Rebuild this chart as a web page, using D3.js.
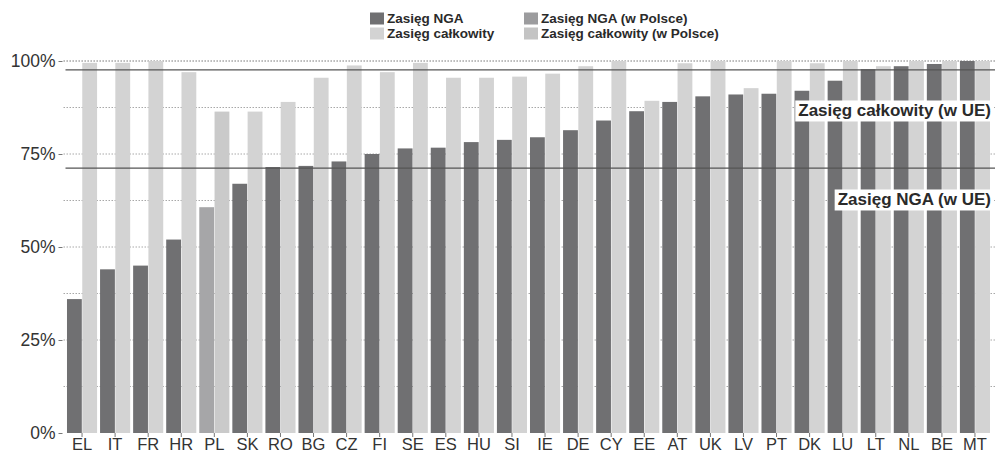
<!DOCTYPE html>
<html>
<head>
<meta charset="utf-8">
<script src="https://cdn.jsdelivr.net/npm/d3@7/dist/d3.min.js"></script>
<style>
  body { margin: 0; background: #fff; }
  svg { font-family: "Liberation Sans", Arial, sans-serif; }
</style>
</head>
<body>
<div id="chart"></div>
<script>
var countries = ["EL","IT","FR","HR","PL","SK","RO","BG","CZ","FI","SE","ES","HU","SI","IE","DE","CY","EE","AT","UK","LV","PT","DK","LU","LT","NL","BE","MT"];
var ngaCoverage = [36, 44, 45, 52, 60.7, 67, 71.5, 71.8, 73, 75, 76.5, 76.7, 78.2, 78.8, 79.5, 81.4, 84, 86.5, 89, 90.5, 91, 91.2, 92, 94.7, 97.8, 98.6, 99.2, 100];
var totalCoverage = [99.5, 99.5, 100, 97, 86.4, 86.4, 89, 95.5, 98.8, 97, 99.5, 95.5, 95.5, 95.8, 96.6, 98.6, 100, 89.3, 99.4, 100, 92.7, 100, 99.4, 100, 98.6, 100, 100, 100];
var euAverage = [{name: "Zasięg całkowity (w UE)", value: 97.6}, {name: "Zasięg NGA (w UE)", value: 71.2}];
var yTicks = [0, 25, 50, 75, 100];
var gridTicks = [12.5, 37.5, 62.5, 87.5, 100];
var legendItems = ["Zasięg NGA", "Zasięg całkowity", "Zasięg NGA (w Polsce)", "Zasięg całkowity (w Polsce)"];

var width = 995, height = 453;
var margin = {top: 61, right: 3.5, bottom: 20, left: 65.5};

var colors = {nga: "#707072", total: "#d3d3d3", ngaPL: "#a6a6a8", totalPL: "#cacaca"};

var svg = d3.select("#chart").append("svg")
  .attr("width", width)
  .attr("height", height);

var x = d3.scaleBand()
  .domain(countries)
  .range([margin.left, width - margin.right])
  .paddingInner(0.09)
  .paddingOuter(0.045);

var y = d3.scaleLinear()
  .domain([0, 100])
  .range([433, margin.top]);

var sub = d3.scaleBand()
  .domain(["nga", "total"])
  .range([0, x.bandwidth()])
  .paddingInner(0.03);

// dotted grid
svg.append("g").selectAll("line")
  .data(yTicks.concat(gridTicks).filter(function(d) { return d > 0; }))
  .enter().append("line")
  .attr("x1", margin.left - 2)
  .attr("x2", width)
  .attr("y1", function(d) { return y(d); })
  .attr("y2", function(d) { return y(d); })
  .attr("stroke", "#a8a8a8")
  .attr("stroke-width", 1)
  .attr("stroke-dasharray", "1.5,1.5");

var data = countries.map(function(c, i) {
  return {country: c, nga: ngaCoverage[i], total: totalCoverage[i]};
});

var groups = svg.append("g").selectAll("g")
  .data(data)
  .enter().append("g")
  .attr("transform", function(d) { return "translate(" + x(d.country) + ",0)"; });

groups.append("rect")
  .attr("x", sub("nga"))
  .attr("width", sub.bandwidth())
  .attr("y", function(d) { return y(d.nga); })
  .attr("height", function(d) { return y(0) - y(d.nga); })
  .attr("fill", function(d) { return d.country === "PL" ? colors.ngaPL : colors.nga; });

groups.append("rect")
  .attr("x", sub("total"))
  .attr("width", sub.bandwidth())
  .attr("y", function(d) { return y(d.total); })
  .attr("height", function(d) { return y(0) - y(d.total); })
  .attr("fill", function(d) { return d.country === "PL" ? colors.totalPL : colors.total; });

// EU average lines
svg.append("g").selectAll("line")
  .data(euAverage)
  .enter().append("line")
  .attr("x1", margin.left)
  .attr("x2", width)
  .attr("y1", function(d) { return y(d.value); })
  .attr("y2", function(d) { return y(d.value); })
  .attr("stroke", "#555")
  .attr("stroke-width", 1.3);

var labelY = [112, 201];
euAverage.forEach(function(d, i) {
  var t = svg.append("text")
    .attr("x", 991)
    .attr("y", labelY[i])
    .attr("text-anchor", "end")
    .attr("dominant-baseline", "middle")
    .attr("font-size", "17px")
    .attr("font-weight", "bold")
    .attr("fill", "#2a2a2a")
    .text(d.name);
  var bb = t.node().getBBox();
  svg.insert("rect", function() { return t.node(); })
    .attr("x", bb.x - 3)
    .attr("y", bb.y - 1)
    .attr("width", bb.width + 6)
    .attr("height", bb.height + 2)
    .attr("fill", "#fff");
});

// axes
var yAxis = svg.append("g")
  .attr("transform", "translate(" + (margin.left - 3) + ",0)")
  .call(d3.axisLeft(y).tickValues(yTicks).tickFormat(function(d) { return d + "%"; }).tickSize(4).tickPadding(3));
yAxis.select(".domain").remove();
yAxis.selectAll("line").attr("stroke", "#777");
yAxis.selectAll("text").attr("font-size", "17.5px").attr("fill", "#333").attr("font-family", "Liberation Sans, Arial, sans-serif");

var xAxis = svg.append("g")
  .attr("transform", "translate(0," + y(0) + ")")
  .call(d3.axisBottom(x).tickSize(4).tickPadding(1));
xAxis.select(".domain").remove();
xAxis.selectAll("line").attr("stroke", "#777");
xAxis.selectAll("text").attr("font-size", "16.5px").attr("fill", "#333").attr("font-family", "Liberation Sans, Arial, sans-serif");

// legend
var legendPos = [[370, 12], [370, 27], [524, 12], [524, 27]];
var legendColors = [colors.nga, colors.total, "#9c9c9e", "#c4c4c4"];
var legend = svg.append("g").selectAll("g")
  .data(legendItems)
  .enter().append("g")
  .attr("transform", function(d, i) { return "translate(" + legendPos[i][0] + "," + legendPos[i][1] + ")"; });

legend.append("rect")
  .attr("y", 0.5)
  .attr("width", 14)
  .attr("height", 12)
  .attr("fill", function(d, i) { return legendColors[i]; });

legend.append("text")
  .attr("x", 17)
  .attr("y", 10.5)
  .attr("font-size", "13.5px")
  .attr("font-weight", "bold")
  .attr("fill", "#2a2a2a")
  .text(function(d) { return d; });
</script>
</body>
</html>
